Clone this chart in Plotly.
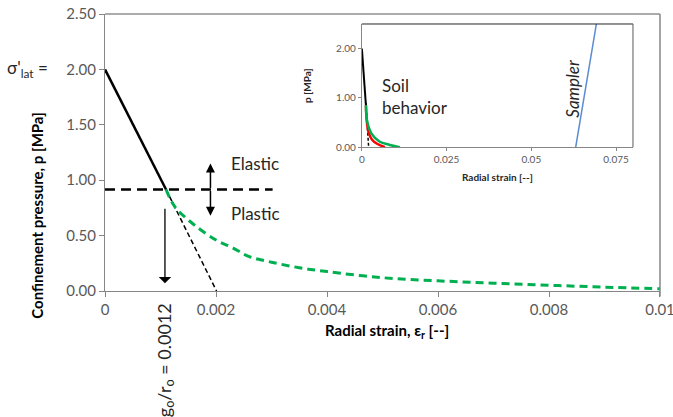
import plotly.graph_objects as go

# ---------------- data ----------------
# main chart (strain in [--], pressure in MPa)
elastic_x = [0.0, 0.0011]
elastic_p = [2.0, 0.916]
yield_p = 0.916
yield_line_x = [0.0, 0.00302]
elastic_ext_x = [0.0011, 0.00201]
elastic_ext_p = [0.916, 0.0]
plastic_x = [0.0011, 0.00126, 0.0016, 0.002, 0.0023, 0.0026, 0.003, 0.0035,
             0.004, 0.005, 0.006, 0.007, 0.008, 0.009, 0.010]
plastic_p = [0.916, 0.76, 0.60, 0.46, 0.39, 0.31, 0.26, 0.21,
             0.175, 0.12, 0.092, 0.07, 0.052, 0.035, 0.02]

x_ticks = [0, 0.002, 0.004, 0.006, 0.008, 0.01]
x_tick_text = ["0", "0.002", "0.004", "0.006", "0.008", "0.01"]
y_ticks = [0, 0.5, 1.0, 1.5, 2.0, 2.5]
y_tick_text = ["0.00", "0.50", "1.00", "1.50", "2.00", "2.50"]

# annotation anchors
sigma_lat = 2.0
g0_r0 = 0.00108
arrow_down_from = 0.755
arrow_down_to = 0.07
double_arrow_x = 0.0019
double_arrow_up = 1.15
double_arrow_down = 0.68
label_x = 0.00223
elastic_label_p = 1.154
plastic_label_p = 0.70

# inset chart
inset_black_x = [0.0, 0.0012]
inset_black_p = [2.0, 0.85]
inset_dash_x = [0.0012, 0.0020]
inset_dash_p = [0.9, 0.0]
inset_red_x = [0.0012, 0.0015, 0.002, 0.003, 0.0045, 0.0068]
inset_red_p = [0.85, 0.50, 0.30, 0.15, 0.07, 0.0]
inset_green_x = [0.0012, 0.0015, 0.0028, 0.0053, 0.008, 0.0112]
inset_green_p = [0.85, 0.55, 0.28, 0.11, 0.05, 0.0]
sampler_x = [0.0631, 0.0692]
sampler_p = [0.0, 2.5]
inset_x_ticks = [0, 0.025, 0.05, 0.075]
inset_x_tick_text = ["0", "0.025", "0.05", "0.075"]
inset_y_ticks = [0, 1, 2]
inset_y_tick_text = ["0.00", "1.00", "2.00"]

FONT = "Lato, 'Open Sans', sans-serif"
BLACK = "#000000"
GREEN = "#00B050"
RED = "#FF0000"
BLUE = "#5B8BD0"
AXIS = "#868686"
TXT = "#595959"

fig = go.Figure()

# ---------------- main traces ----------------
fig.add_trace(go.Scatter(x=elastic_x, y=elastic_p, mode="lines",
                         line=dict(color=BLACK, width=2.5), showlegend=False))
fig.add_trace(go.Scatter(x=yield_line_x, y=[yield_p, yield_p], mode="lines",
                         line=dict(color=BLACK, width=2.5, dash="10px,6px"),
                         showlegend=False))
fig.add_trace(go.Scatter(x=elastic_ext_x, y=elastic_ext_p, mode="lines",
                         line=dict(color=BLACK, width=1.5, dash="5px,3px"),
                         showlegend=False))
fig.add_trace(go.Scatter(x=plastic_x, y=plastic_p, mode="lines",
                         line=dict(color=GREEN, width=3, dash="8px,5px", shape="spline"),
                         showlegend=False))

# ---------------- inset traces ----------------
fig.add_trace(go.Scatter(x=inset_black_x, y=inset_black_p, mode="lines",
                         line=dict(color=BLACK, width=2), xaxis="x2", yaxis="y2",
                         showlegend=False))
fig.add_trace(go.Scatter(x=inset_dash_x, y=inset_dash_p, mode="lines",
                         line=dict(color=BLACK, width=1.5, dash="3px,2px"),
                         xaxis="x2", yaxis="y2", showlegend=False))
fig.add_trace(go.Scatter(x=inset_red_x, y=inset_red_p, mode="lines",
                         line=dict(color=RED, width=2.5, shape="spline"),
                         xaxis="x2", yaxis="y2", showlegend=False))
fig.add_trace(go.Scatter(x=inset_green_x, y=inset_green_p, mode="lines",
                         line=dict(color=GREEN, width=2.5, shape="spline"),
                         xaxis="x2", yaxis="y2", showlegend=False))
fig.add_trace(go.Scatter(x=sampler_x, y=sampler_p, mode="lines",
                         line=dict(color=BLUE, width=1.5),
                         xaxis="x2", yaxis="y2", showlegend=False))

annotations = [
    # sigma'_lat label
    dict(xref="paper", yref="y", x=-0.099, y=sigma_lat, xanchor="right", yanchor="middle",
         text="σ'<sub>lat</sub> =", showarrow=False,
         font=dict(family=FONT, size=17, color="#262626")),
    # y title
    dict(xref="paper", yref="y", x=-0.1225, y=0.68, xanchor="center", yanchor="middle",
         text="<b>Confinement pressure, p [MPa]</b>", textangle=-90, showarrow=False,
         font=dict(family=FONT, size=15, color="#000000")),
    # x title
    dict(xref="paper", yref="paper", x=0.508, y=-0.1456, xanchor="center", yanchor="middle",
         text="<b>Radial strain, ε<sub>r</sub> [--]</b>", showarrow=False,
         font=dict(family=FONT, size=15, color="#000000")),
    # g0/r0 label
    dict(xref="x", yref="paper", x=g0_r0, y=-0.25, xanchor="center", yanchor="middle",
         text="g<sub>o</sub>/r<sub>o</sub> = 0.0012", textangle=-90, showarrow=False,
         font=dict(family=FONT, size=18, color="#262626")),
    # Elastic / Plastic
    dict(xref="x", yref="y", x=label_x, y=elastic_label_p, xanchor="left", yanchor="middle",
         text="Elastic", showarrow=False, font=dict(family=FONT, size=17, color="#262626")),
    dict(xref="x", yref="y", x=label_x, y=plastic_label_p, xanchor="left", yanchor="middle",
         text="Plastic", showarrow=False, font=dict(family=FONT, size=17, color="#262626")),
    # double arrow
    dict(xref="x", yref="y", axref="x", ayref="y", x=double_arrow_x, y=double_arrow_up,
         ax=double_arrow_x, ay=yield_p, text="", showarrow=True, arrowhead=2,
         arrowsize=1.2, arrowwidth=1.5, arrowcolor=BLACK),
    dict(xref="x", yref="y", axref="x", ayref="y", x=double_arrow_x, y=double_arrow_down,
         ax=double_arrow_x, ay=yield_p, text="", showarrow=True, arrowhead=2,
         arrowsize=1.2, arrowwidth=1.5, arrowcolor=BLACK),
    # down arrow
    dict(xref="x", yref="y", axref="x", ayref="y", x=g0_r0, y=arrow_down_to,
         ax=g0_r0, ay=arrow_down_from, text="", showarrow=True, arrowhead=1,
         arrowsize=1.6, arrowwidth=1.3, arrowcolor=BLACK),
    # inset labels
    dict(xref="x2", yref="y2", x=0.0053, y=1.02, xanchor="left", yanchor="middle",
         text="Soil<br>behavior", align="left", showarrow=False,
         font=dict(family=FONT, size=17, color="#262626")),
    dict(xref="x2", yref="y2", x=0.0619, y=1.2, xanchor="center", yanchor="middle",
         text="Sampler", textangle=-90, showarrow=False,
         font=dict(family=FONT, size=17, color="#262626", style="italic")),
]

shapes = [
    # main plot top & right frame
    dict(type="line", xref="paper", yref="paper", x0=0, x1=1, y0=1, y1=1,
         line=dict(color="#595959", width=1)),
    dict(type="line", xref="paper", yref="paper", x0=1, x1=1, y0=-0.02, y1=1,
         line=dict(color="#868686", width=1.5)),
    # inset top & right frame
    dict(type="line", xref="x2 domain", yref="y2 domain", x0=0, x1=1, y0=1, y1=1,
         line=dict(color="#262626", width=1)),
    dict(type="line", xref="x2 domain", yref="y2 domain", x0=1, x1=1, y0=0, y1=1,
         line=dict(color="#595959", width=1)),
]

fig.update_layout(
    width=673, height=417,
    margin=dict(l=105, r=13, t=14, b=126, pad=0),
    paper_bgcolor="white", plot_bgcolor="white",
    font=dict(family=FONT, color=TXT),
    showlegend=False,
    xaxis=dict(range=[0, 0.0100001], tickvals=x_ticks, ticktext=x_tick_text,
               showline=True, linecolor=AXIS, linewidth=1, ticks="outside",
               ticklen=5, tickcolor=AXIS, showgrid=False, zeroline=False,
               ticklabeloverflow="allow", automargin=False,
               tickfont=dict(family=FONT, size=15, color=TXT)),
    yaxis=dict(range=[0, 2.5000001], tickvals=y_ticks, ticktext=y_tick_text,
               showline=True, linecolor=AXIS, linewidth=1, ticks="outside",
               ticklen=5, tickcolor=AXIS, showgrid=False, zeroline=False,
               ticklabeloverflow="allow", automargin=False,
               tickfont=dict(family=FONT, size=15, color=TXT)),
    xaxis2=dict(domain=[0.4628, 0.9513], anchor="y2", range=[0, 0.08],
                tickvals=inset_x_ticks, ticktext=inset_x_tick_text,
                showline=True, linecolor=AXIS, linewidth=1, ticks="outside",
                ticklen=3, tickcolor=AXIS, showgrid=False, zeroline=False,
                automargin=False,
                tickfont=dict(family=FONT, size=10, color=TXT),
                title=dict(text="<b>Radial strain [--]</b>", standoff=9,
                           font=dict(family=FONT, size=10, color="#262626"))),
    yaxis2=dict(domain=[0.5193, 0.9639], anchor="x2", range=[0, 2.5],
                tickvals=inset_y_ticks, ticktext=inset_y_tick_text,
                showline=True, linecolor=AXIS, linewidth=1, ticks="outside",
                ticklen=3, tickcolor=AXIS, showgrid=False, zeroline=False,
                automargin=False,
                tickfont=dict(family=FONT, size=10, color=TXT),
                title=dict(text="<b>p [MPa]</b>", standoff=22,
                           font=dict(family=FONT, size=10, color="#262626"))),
    annotations=annotations,
    shapes=shapes,
)

fig.write_html(
    "out.html",
    config={"displayModeBar": False},
    post_script="document.body.style.margin='0';document.body.style.overflow='hidden';",
)
